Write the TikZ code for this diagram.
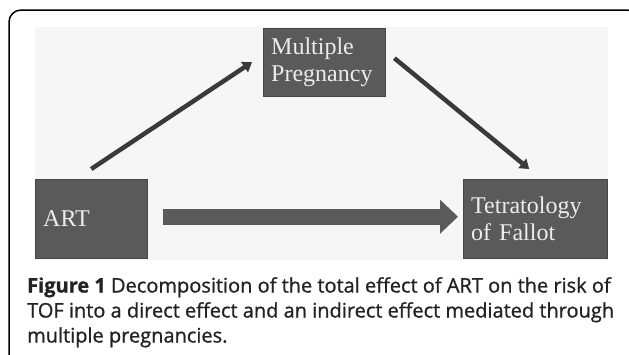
\documentclass[tikz,border=0pt]{standalone}
\usepackage{fontspec}
\setmainfont{Liberation Serif}
\newfontfamily\capfont[FakeBold=1]{Open Sans}
\usepackage{tikz}
\usetikzlibrary{arrows.meta}
\definecolor{boxgray}{RGB}{90,90,90}
\definecolor{boxline}{RGB}{70,70,70}
\definecolor{arrowgray}{RGB}{58,58,58}
\definecolor{panelgray}{RGB}{246,246,246}
\definecolor{boxtext}{RGB}{236,236,236}
\definecolor{captext}{RGB}{35,35,35}

\begin{document}
\begin{tikzpicture}[x=1pt,y=-1pt,
    varbox/.style={draw=boxline, fill=boxgray, text=boxtext, anchor=north west,
      inner xsep=8pt, inner ysep=0pt, align=left,
      font=\fontsize{24}{27}\selectfont},
    thinarrow/.style={draw=arrowgray, line width=4.5pt,
      -{Triangle[length=9pt,width=12pt]}},
    fatarrow/.style={draw=boxgray, line width=16pt,
      -{Triangle[length=18pt,width=33pt]}}]

   \useasboundingbox (0,0) rectangle (629,354);
   \clip (0,0) rectangle (629,354);

   % frame and panel
   \draw[line width=1.5pt, rounded corners=12pt] (9,370) -- (9,10) -- (639,10) -- (639,370);
   \fill[panelgray] (35,27) rectangle (608,260);

   \node[varbox, text width=106pt, minimum height=68pt] (mp) at (263,28) {Multiple\\Pregnancy};
   \node[varbox, text width=96pt, minimum height=79pt] (art) at (35,179) {ART};
   \node[varbox, text width=128pt, minimum height=79pt] (tof) at (463,179) {Tetratology\\of Fallot};

   \draw[thinarrow] ([yshift=10pt]art.north) -- ([xshift=-11pt]mp.west);
   \draw[thinarrow] ([xshift=9pt,yshift=4pt]mp.east) -- ([xshift=-6pt,yshift=10pt]tof.north);
   \draw[fatarrow] ([xshift=16pt,yshift=2pt]art.east) -- ([xshift=-5pt,yshift=2pt]tof.west);

   \node[anchor=north west, inner sep=0pt, align=left, text=captext,
     font=\capfont\fontsize{20}{25}\selectfont] (cap) at (27,277)
     {\textbf{Figure 1} Decomposition of the total effect of ART on the risk of\\
      TOF into a direct effect and an indirect effect mediated through\\
      multiple pregnancies.};

\end{tikzpicture}
\end{document}
